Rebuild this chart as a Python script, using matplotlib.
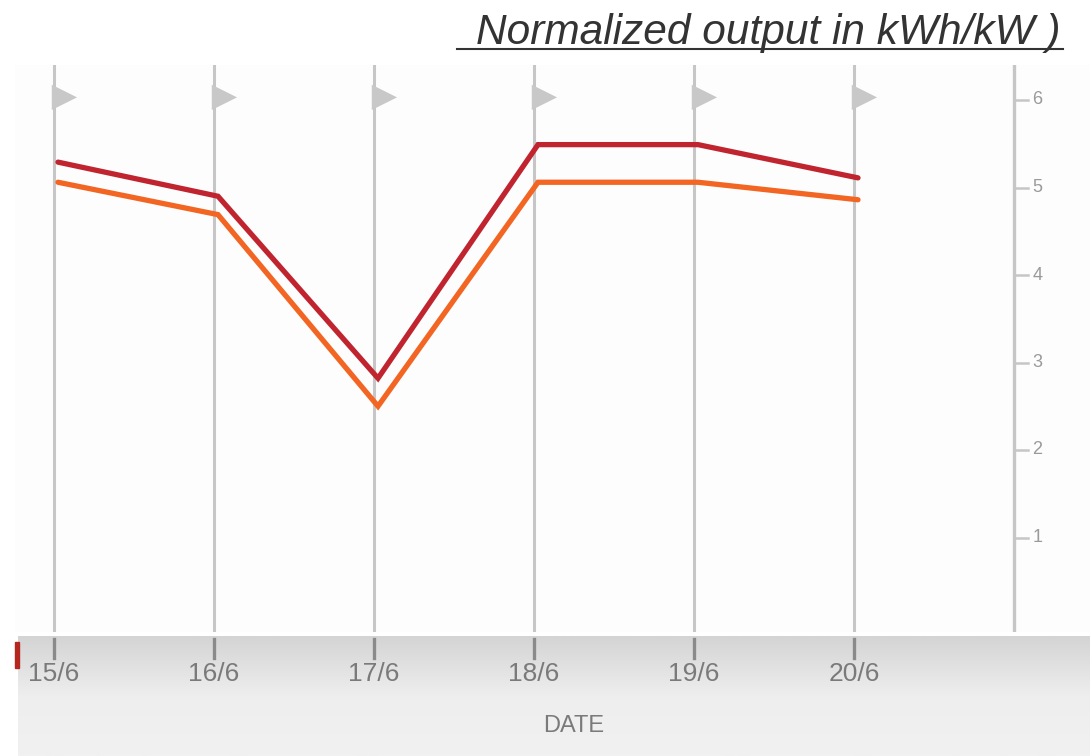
import matplotlib
matplotlib.use('Agg')
import matplotlib.pyplot as plt
import numpy as np
from matplotlib.lines import Line2D
from matplotlib.patches import Rectangle

plt.rcParams['font.family'] = ['Liberation Sans', 'DejaVu Sans']

# data
dates = ['15/6', '16/6', '17/6', '18/6', '19/6', '20/6']
series_dark = [5.29, 4.90, 2.82, 5.49, 5.49, 5.11]
series_orange = [5.06, 4.69, 2.50, 5.06, 5.06, 4.86]
yticks = [1, 2, 3, 4, 5, 6]

W, H = 1090, 756
fig = plt.figure(figsize=(W / 100, H / 100), dpi=100)
fig.patch.set_facecolor('white')

x = np.arange(len(dates))
x0_px, step_px = 54, 160  # pixel of first date, pixels per day


def px_to_x(px):
    return (px - x0_px) / step_px


# main plot area
ax = fig.add_axes([15 / W, (H - 632) / H, 1075 / W, 567 / H])
ax.set_xlim(px_to_x(15), px_to_x(1090))
ax.set_ylim(-0.08, 6.4)
ax.set_facecolor('#fdfdfd')
for s in ax.spines.values():
    s.set_visible(False)
ax.set_xticks([])
ax.set_yticks([])

grid_c = '#c6c6c6'
for xi in x:
    ax.axvline(xi, color=grid_c, lw=2.2, zorder=1)
# flags
ax.scatter(x + 0.065, [6.03] * len(x), marker='>', s=330, color='#c8c8c8',
           edgecolors='none', zorder=2)

# right value axis
ax.axvline(len(dates), color=grid_c, lw=2.4, zorder=1)
for t in yticks:
    ax.plot([len(dates), len(dates) + 0.09], [t, t], color=grid_c, lw=1.8)
    ax.text(len(dates) + 0.115, t, str(t), color='#9a9a9a', fontsize=13,
            va='center', ha='left')

off = 0.025
ax.plot(x + off, series_dark, color='#c0242f', lw=3.8, zorder=3,
        solid_joinstyle='miter', solid_capstyle='round')
ax.plot(x + off, series_orange, color='#f26522', lw=3.8, zorder=3,
        solid_joinstyle='miter', solid_capstyle='round')

# gray band with date axis
band = fig.add_axes([18 / W, 0, 1072 / W, 120 / H])
band.set_xlim(px_to_x(18), px_to_x(1090))
band.set_ylim(120, 0)
grad = np.linspace(0, 1, 100).reshape(-1, 1)
band.imshow(grad, cmap=matplotlib.colors.LinearSegmentedColormap.from_list(
    'g', ['#d4d4d4', '#eeeeee', '#f1f1f1']), aspect='auto',
    extent=[px_to_x(18), px_to_x(1090), 120, 0], zorder=0)
band.axis('off')
for xi, d in zip(x, dates):
    band.plot([xi, xi], [3, 22], color='#8a8a8a', lw=2.4)
    band.text(xi, 38, d, color='#7a7a7a', fontsize=19, ha='center', va='center')
band.text(px_to_x(574), 90, 'DATE', color='#7a7a7a', fontsize=17,
          ha='center', va='center')

# small red mark at left edge
fig.add_artist(Rectangle((15 / W, (H - 668) / H), 4 / W, 26 / H,
                         transform=fig.transFigure, color='#b5261e'))

# title, underlined
fig.text(1060 / W, 1 - 44 / H, 'Normalized output in kWh/kW )', fontsize=30.5,
         style='italic', color='#333333', ha='right', va='baseline')
fig.add_artist(Line2D([457 / W, 1063 / W], [1 - 49 / H, 1 - 49 / H],
                      transform=fig.transFigure, color='#333333', lw=1.5))

fig.savefig('out.png', dpi=100)
